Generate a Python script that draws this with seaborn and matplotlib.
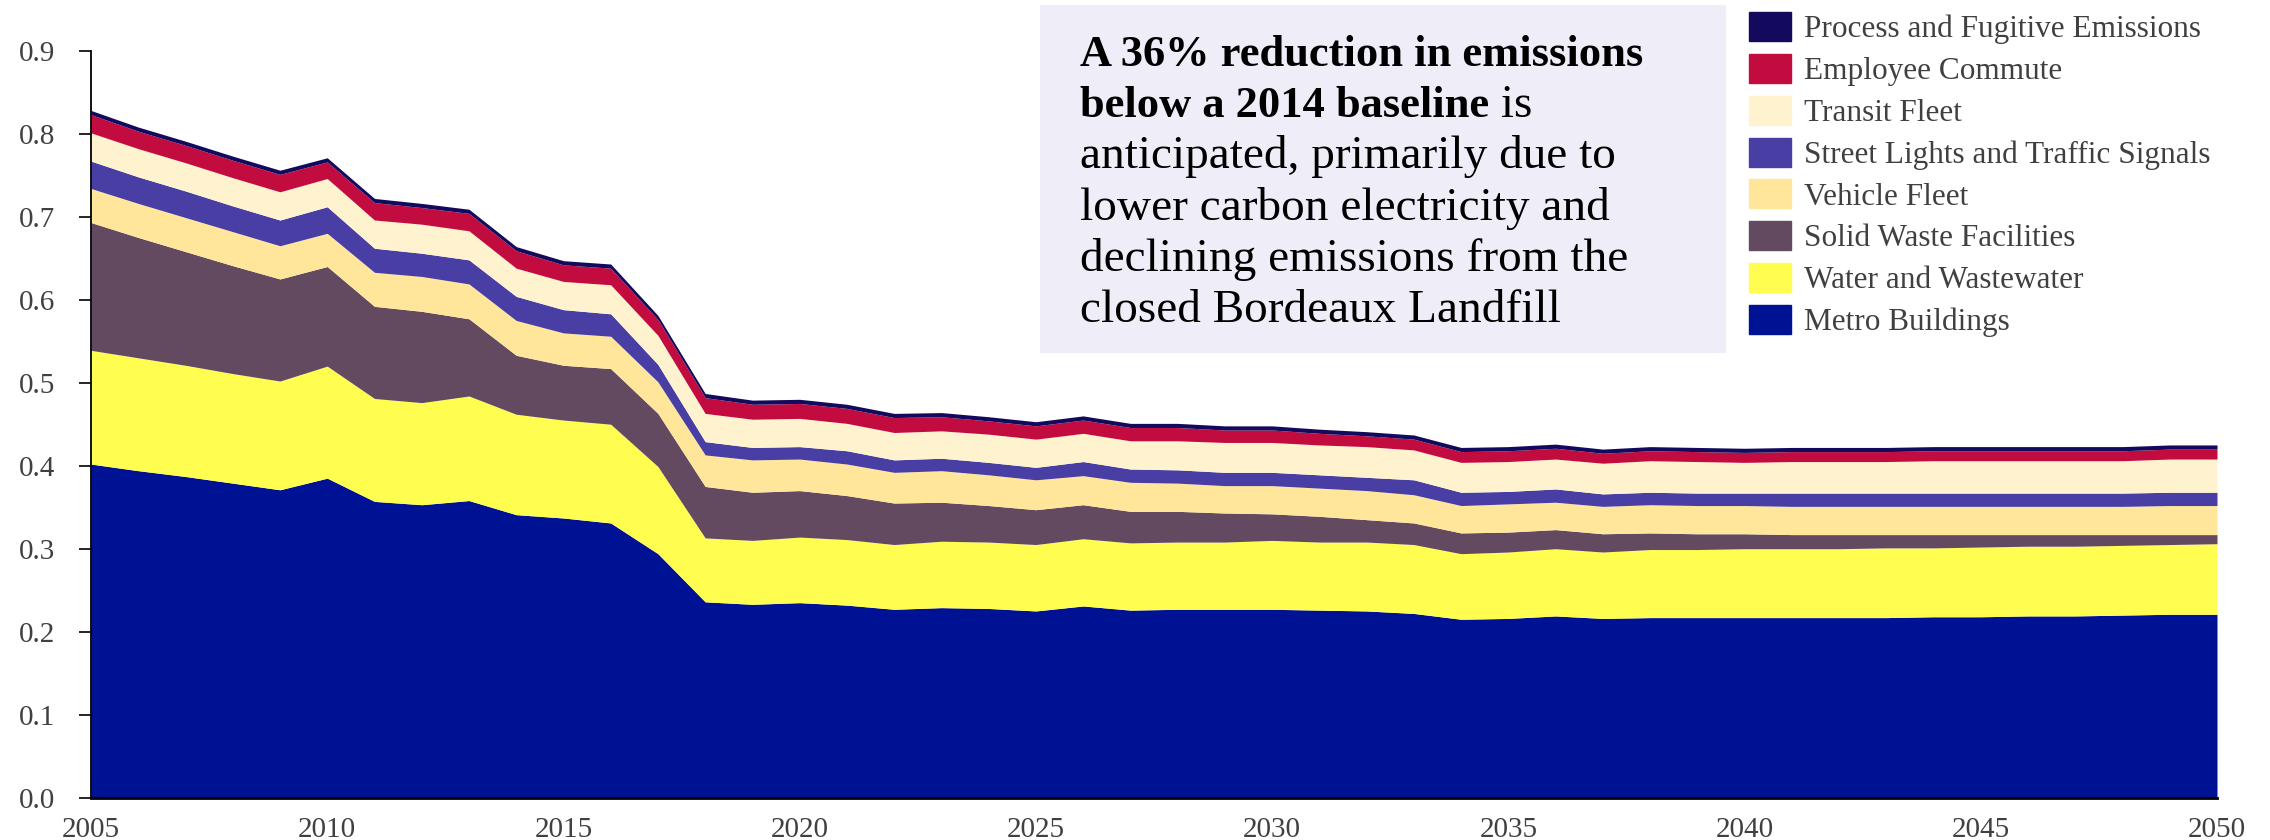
import matplotlib
matplotlib.use('Agg')
import matplotlib.pyplot as plt
import matplotlib.patches as mpatches
import seaborn as sns

# Data (million MT CO2e per layer, stacked bottom -> top)
years = list(range(2005, 2051))

metro = [0.402, 0.394, 0.387, 0.379, 0.371, 0.385, 0.357, 0.353, 0.358, 0.341,
         0.337, 0.331, 0.294, 0.236, 0.233, 0.235, 0.232, 0.227, 0.229, 0.228,
         0.225, 0.231, 0.226, 0.227, 0.227, 0.227, 0.226, 0.225, 0.222, 0.215,
         0.216, 0.219, 0.216, 0.217, 0.217, 0.217, 0.217, 0.217, 0.217, 0.218,
         0.218, 0.219, 0.219, 0.220, 0.221, 0.221]
water = [0.137, 0.136, 0.134, 0.132, 0.131, 0.135, 0.124, 0.123, 0.126, 0.121,
         0.118, 0.119, 0.105, 0.077, 0.077, 0.079, 0.079, 0.078, 0.080, 0.080,
         0.080, 0.081, 0.081, 0.081, 0.081, 0.083, 0.082, 0.083, 0.083, 0.079,
         0.080, 0.081, 0.080, 0.082, 0.082, 0.083, 0.083, 0.083, 0.084, 0.083,
         0.084, 0.084, 0.084, 0.084, 0.084, 0.085]
solid_waste = [0.154, 0.145, 0.137, 0.130, 0.123, 0.120, 0.111, 0.110, 0.093, 0.071,
               0.066, 0.067, 0.064, 0.062, 0.058, 0.056, 0.053, 0.050, 0.047, 0.044,
               0.042, 0.041, 0.038, 0.037, 0.035, 0.032, 0.031, 0.027, 0.026, 0.025,
               0.024, 0.023, 0.022, 0.020, 0.019, 0.018, 0.017, 0.017, 0.016, 0.016,
               0.015, 0.014, 0.014, 0.013, 0.012, 0.011]
vehicle = [0.041, 0.041, 0.041, 0.041, 0.040, 0.040, 0.041, 0.042, 0.042, 0.042,
           0.039, 0.039, 0.038, 0.038, 0.039, 0.038, 0.038, 0.037, 0.038, 0.037,
           0.036, 0.035, 0.035, 0.034, 0.033, 0.034, 0.034, 0.035, 0.034, 0.033,
           0.034, 0.033, 0.033, 0.034, 0.034, 0.034, 0.034, 0.034, 0.034, 0.034,
           0.034, 0.034, 0.034, 0.034, 0.035, 0.035]
street_lights = [0.033, 0.032, 0.032, 0.031, 0.031, 0.032, 0.029, 0.028, 0.029, 0.029,
                 0.028, 0.027, 0.021, 0.016, 0.015, 0.015, 0.016, 0.015, 0.015, 0.015,
                 0.015, 0.017, 0.016, 0.016, 0.016, 0.016, 0.016, 0.016, 0.018, 0.016,
                 0.015, 0.016, 0.015, 0.015, 0.015, 0.015, 0.016, 0.016, 0.016, 0.016,
                 0.016, 0.016, 0.016, 0.016, 0.016, 0.016]
transit = [0.034, 0.034, 0.034, 0.034, 0.034, 0.034, 0.034, 0.035, 0.035, 0.034,
           0.034, 0.035, 0.035, 0.034, 0.034, 0.034, 0.033, 0.033, 0.033, 0.034,
           0.034, 0.034, 0.034, 0.035, 0.036, 0.036, 0.036, 0.037, 0.036, 0.036,
           0.036, 0.036, 0.037, 0.038, 0.038, 0.037, 0.038, 0.038, 0.038, 0.039,
           0.039, 0.039, 0.039, 0.039, 0.040, 0.040]
commute = [0.022, 0.021, 0.021, 0.021, 0.021, 0.020, 0.021, 0.020, 0.021, 0.021,
           0.020, 0.020, 0.019, 0.019, 0.018, 0.018, 0.018, 0.018, 0.017, 0.016,
           0.016, 0.016, 0.016, 0.016, 0.015, 0.015, 0.014, 0.013, 0.013, 0.013,
           0.013, 0.013, 0.012, 0.012, 0.012, 0.012, 0.012, 0.012, 0.012, 0.012,
           0.012, 0.012, 0.012, 0.012, 0.012, 0.012]
process = [0.005] * 46

labels = ['Metro Buildings', 'Water and Wastewater', 'Solid Waste Facilities',
          'Vehicle Fleet', 'Street Lights and Traffic Signals', 'Transit Fleet',
          'Employee Commute', 'Process and Fugitive Emissions']
colors = ['#001294', '#FFFD50', '#634A60', '#FFE69B', '#483EA3', '#FFF2CE',
          '#C20C40', '#130A5E']

sns.set_theme(style='white')
plt.rcParams['font.family'] = ['Liberation Serif', 'DejaVu Serif']

fig = plt.figure(figsize=(22.7, 8.4), dpi=100)
ax = fig.add_axes([91 / 2270, 1 - 797.7 / 840, 2126 / 2270, 747 / 840])

series = [metro, water, solid_waste, vehicle, street_lights, transit, commute, process]
ax.stackplot(years, *series, colors=colors, labels=labels, linewidth=0)

ax.set_xlim(2005, 2050)
ax.set_ylim(0, 0.9)
ax.set_xticks(range(2005, 2051, 5))
ax.set_yticks([i / 10 for i in range(10)])
ax.set_yticklabels([f'{i / 10:.1f}' for i in range(10)])
ax.tick_params(axis='y', left=True, length=9, width=1.2, color='black',
               labelsize=21, labelcolor='#404040', pad=17)
ax.tick_params(axis='x', bottom=False, labelsize=21, labelcolor='#404040', pad=8)
sns.despine(ax=ax)
ax.spines['left'].set_color('black')
ax.spines['left'].set_linewidth(1.3)
ax.spines['bottom'].set_color('black')
ax.spines['bottom'].set_linewidth(2)

# legend, top layer first
handles = [mpatches.Patch(color=c, label=l) for c, l in zip(colors, labels)][::-1]
fig.legend(handles=handles, loc='upper left', bbox_to_anchor=(1749 / 2270, 1 - 12 / 840),
           frameon=False, fontsize=22.5, handlelength=1.35, handleheight=1.05,
           handletextpad=0.42, labelspacing=0.31, borderpad=0, borderaxespad=0,
           labelcolor='#404040')

# annotation box
fig.patches.append(mpatches.Rectangle((1040 / 2270, 1 - 353 / 840), 686 / 2270, 348 / 840,
                                      transform=fig.transFigure, facecolor='#EFEEF8',
                                      edgecolor='none', zorder=0))
tx = 1080 / 2270
base = [65.7, 116.7, 167.5, 220.0, 271.0, 321.7]
fs_bold = 32
fs = 34
fig.text(tx, 1 - base[0] / 840, 'A 36% reduction in emissions', fontsize=fs_bold,
         fontweight='bold', va='baseline', color='black')
t2 = fig.text(tx, 1 - base[1] / 840, 'below a 2014 baseline', fontsize=fs_bold,
              fontweight='bold', va='baseline', color='black')
fig.canvas.draw()
bb = t2.get_window_extent(renderer=fig.canvas.get_renderer())
fig.text(bb.x1 / fig.bbox.width, 1 - base[1] / 840, ' is', fontsize=fs,
         va='baseline', color='black')
for y, s in zip(base[2:], ['anticipated, primarily due to', 'lower carbon electricity and',
                           'declining emissions from the', 'closed Bordeaux Landfill']):
    fig.text(tx, 1 - y / 840, s, fontsize=fs, va='baseline', color='black')

fig.savefig('out.png', dpi=100)
